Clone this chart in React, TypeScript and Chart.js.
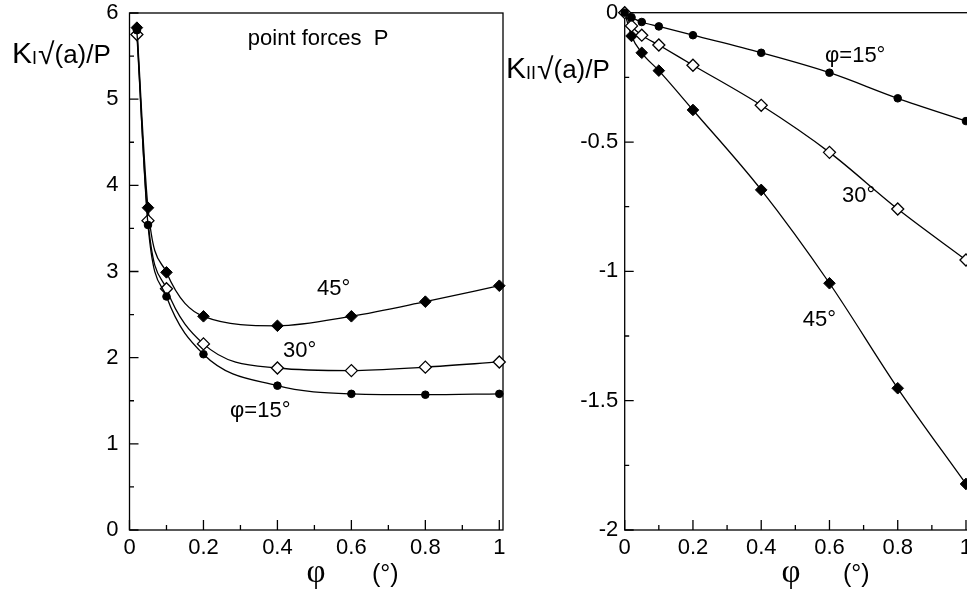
import { useEffect, useRef } from 'react';
import { Chart, registerables } from 'chart.js';

Chart.register(...registerables);

// ---- data ----
const phiLeft = [0.02, 0.05, 0.1, 0.2, 0.4, 0.6, 0.8, 1.0];
const kI15 = [5.8, 3.54, 2.71, 2.04, 1.675, 1.58, 1.57, 1.58];
const kI30 = [5.75, 3.59, 2.8, 2.16, 1.88, 1.85, 1.89, 1.95];
const kI45 = [5.83, 3.74, 2.99, 2.48, 2.37, 2.48, 2.65, 2.835];

const phiRight = [0, 0.02, 0.05, 0.1, 0.2, 0.4, 0.6, 0.8, 1.0];
const kII15 = [0, -0.018, -0.036, -0.053, -0.087, -0.155, -0.232, -0.331, -0.419];
const kII30 = [0, -0.051, -0.087, -0.125, -0.203, -0.358, -0.54, -0.759, -0.956];
const kII45 = [0, -0.09, -0.155, -0.224, -0.376, -0.685, -1.046, -1.452, -1.822];

const xMajorTicks = [0, 0.2, 0.4, 0.6, 0.8, 1];
const xMinorTicks = [0.1, 0.3, 0.5, 0.7, 0.9];
const yLeftMajor = [0, 1, 2, 3, 4, 5, 6];
const yLeftMinor = [0.5, 1.5, 2.5, 3.5, 4.5, 5.5];
const yRightMajor = [-2, -1.5, -1, -0.5, 0];
const yRightMinor = [-1.75, -1.25, -0.75, -0.25];

const leftNotes = [
  { text: 'point forces  P', x: 0.32, y: 5.628 },
  { text: '45°', x: 0.507, y: 2.727 },
  { text: '30°', x: 0.415, y: 2.008 },
  { text: 'φ=15°', x: 0.272, y: 1.311 },
];
const rightNotes = [
  { text: 'φ=15°', x: 0.587, y: -0.1894 },
  { text: '30°', x: 0.637, y: -0.732 },
  { text: '45°', x: 0.522, y: -1.211 },
];

const SANS = '"Liberation Sans", Arial, sans-serif';
const SERIF = '"Liberation Serif", "Times New Roman", serif';

type Note = { text: string; x: number; y: number };
type PanelCfg = {
  xs: number[];
  s15: number[];
  s30: number[];
  s45: number[];
  yMin: number;
  yMax: number;
  yMajor: number[];
  yMinor: number[];
  notes: Note[];
  padTop: number;
  padRight: number;
  yWidth: number;
  yTickPad: number;
  sub: string;
  labelX: number;
  labelBase: number;
  phiX: number;
  degX: number;
};

function toPts(xs: number[], ys: number[]) {
  return xs.map((x, i) => ({ x, y: ys[i] }));
}

function makePlugin(cfg: PanelCfg) {
  return {
    id: 'decor',
    beforeDatasetsDraw(chart: any) {
      const { ctx, chartArea: a, scales } = chart;
      const xs = scales.x;
      const ys = scales.y;
      ctx.save();
      ctx.strokeStyle = '#000';
      ctx.lineWidth = 1.3;
      ctx.strokeRect(a.left, a.top, a.right - a.left, a.bottom - a.top);
      ctx.beginPath();
      for (const v of xMajorTicks) {
        const p = xs.getPixelForValue(v);
        ctx.moveTo(p, a.bottom);
        ctx.lineTo(p, a.bottom - 10);
      }
      for (const v of xMinorTicks) {
        const p = xs.getPixelForValue(v);
        ctx.moveTo(p, a.bottom);
        ctx.lineTo(p, a.bottom - 5);
      }
      for (const v of cfg.yMajor) {
        const p = ys.getPixelForValue(v);
        ctx.moveTo(a.left, p);
        ctx.lineTo(a.left + 9, p);
      }
      for (const v of cfg.yMinor) {
        const p = ys.getPixelForValue(v);
        ctx.moveTo(a.left, p);
        ctx.lineTo(a.left + 4.5, p);
      }
      ctx.stroke();
      ctx.restore();
    },
    afterDatasetsDraw(chart: any) {
      const { ctx, scales } = chart;
      const xs = scales.x;
      const ys = scales.y;
      ctx.save();
      ctx.fillStyle = '#000';
      ctx.textAlign = 'left';
      ctx.textBaseline = 'alphabetic';
      ctx.font = `22px ${SANS}`;
      for (const n of cfg.notes) {
        ctx.fillText(n.text, xs.getPixelForValue(n.x), ys.getPixelForValue(n.y));
      }
      // y-axis label
      let cx = cfg.labelX;
      ctx.font = `30px ${SANS}`;
      ctx.fillText('K', cx, cfg.labelBase);
      cx += ctx.measureText('K').width;
      ctx.font = `18px ${SANS}`;
      ctx.fillText(cfg.sub, cx, cfg.labelBase + 1);
      cx += ctx.measureText(cfg.sub).width + 1;
      ctx.font = `30px ${SANS}`;
      ctx.fillText('√', cx, cfg.labelBase + 1);
      cx += ctx.measureText('√').width;
      ctx.font = `26px ${SANS}`;
      ctx.fillText('(a)/P', cx, cfg.labelBase);
      // x-axis title
      ctx.font = `33px ${SERIF}`;
      ctx.textAlign = 'center';
      ctx.fillText('φ', cfg.phiX, 582);
      ctx.textAlign = 'left';
      ctx.font = `25px ${SANS}`;
      ctx.fillText('(°)', cfg.degX, 582);
      ctx.restore();
    },
  };
}

function buildConfig(cfg: PanelCfg): any {
  const line = { borderColor: '#000', borderWidth: 1.3, cubicInterpolationMode: 'monotone', clip: false, fill: false };
  return {
    type: 'line',
    data: {
      datasets: [
        {
          ...line,
          label: '15°',
          data: toPts(cfg.xs, cfg.s15),
          pointStyle: 'circle',
          pointRadius: 3.8,
          pointBackgroundColor: '#000',
          pointBorderColor: '#000',
          pointBorderWidth: 1,
        },
        {
          ...line,
          label: '30°',
          data: toPts(cfg.xs, cfg.s30),
          pointStyle: 'rectRot',
          pointRadius: 6,
          pointBackgroundColor: '#fff',
          pointBorderColor: '#000',
          pointBorderWidth: 1.3,
        },
        {
          ...line,
          label: '45°',
          data: toPts(cfg.xs, cfg.s45),
          pointStyle: 'rectRot',
          pointRadius: 5.8,
          pointBackgroundColor: '#000',
          pointBorderColor: '#000',
          pointBorderWidth: 1,
        },
      ],
    },
    options: {
      animation: false,
      responsive: false,
      maintainAspectRatio: false,
      devicePixelRatio: 1,
      layout: { padding: { left: 0, top: cfg.padTop, right: cfg.padRight, bottom: 0 } },
      plugins: { legend: { display: false }, tooltip: { enabled: false }, title: { display: false } },
      events: [],
      scales: {
        x: {
          type: 'linear',
          min: 0,
          max: 1.01,
          grid: { display: false, drawTicks: false },
          border: { display: false },
          afterBuildTicks: (s: any) => {
            s.ticks = xMajorTicks.map((v) => ({ value: v }));
          },
          afterFit: (s: any) => {
            s.height = 69;
            s.paddingLeft = 0;
            s.paddingRight = 0;
          },
          ticks: {
            autoSkip: false,
            maxRotation: 0,
            padding: 5,
            color: '#000',
            font: { family: SANS, size: 22 },
            callback: (v: any) => String(v),
          },
        },
        y: {
          type: 'linear',
          min: cfg.yMin,
          max: cfg.yMax,
          grid: { display: false, drawTicks: false },
          border: { display: false },
          afterBuildTicks: (s: any) => {
            s.ticks = cfg.yMajor.map((v) => ({ value: v }));
          },
          afterFit: (s: any) => {
            s.width = cfg.yWidth;
            s.paddingTop = 0;
            s.paddingBottom = 0;
          },
          ticks: {
            autoSkip: false,
            padding: cfg.yTickPad,
            color: '#000',
            font: { family: SANS, size: 22 },
            callback: (v: any) => String(v),
          },
        },
      },
    },
    plugins: [makePlugin(cfg)],
  };
}

const leftCfg: PanelCfg = {
  xs: phiLeft,
  s15: kI15,
  s30: kI30,
  s45: kI45,
  yMin: 0,
  yMax: 6,
  yMajor: yLeftMajor,
  yMinor: yLeftMinor,
  notes: leftNotes,
  padTop: 13,
  padRight: 27,
  yWidth: 129.5,
  yTickPad: 11,
  sub: 'I',
  labelX: 12,
  labelBase: 63,
  phiX: 316,
  degX: 372,
};

const rightCfg: PanelCfg = {
  xs: phiRight,
  s15: kII15,
  s30: kII30,
  s45: kII45,
  yMin: -2,
  yMax: 0,
  yMajor: yRightMajor,
  yMinor: yRightMinor,
  notes: rightNotes,
  padTop: 12.7,
  padRight: 10.6,
  yWidth: 124.7,
  yTickPad: 6.5,
  sub: 'II',
  labelX: 6,
  labelBase: 78,
  phiX: 291,
  degX: 343,
};

export default function App() {
  const leftRef = useRef<HTMLCanvasElement | null>(null);
  const rightRef = useRef<HTMLCanvasElement | null>(null);

  useEffect(() => {
    const charts: Chart[] = [];
    if (leftRef.current) charts.push(new Chart(leftRef.current, buildConfig(leftCfg)));
    if (rightRef.current) charts.push(new Chart(rightRef.current, buildConfig(rightCfg)));
    return () => {
      charts.forEach((c) => c.destroy());
    };
  }, []);

  return (
    <div
      style={{
        position: 'absolute',
        left: 0,
        top: 0,
        width: 967,
        height: 599,
        overflow: 'hidden',
        background: '#fff',
      }}
    >
      <canvas
        ref={leftRef}
        width={530}
        height={599}
        style={{ position: 'absolute', left: 0, top: 0, width: 530, height: 599 }}
      />
      <canvas
        ref={rightRef}
        width={480}
        height={599}
        style={{ position: 'absolute', left: 500, top: 0, width: 480, height: 599 }}
      />
    </div>
  );
}
